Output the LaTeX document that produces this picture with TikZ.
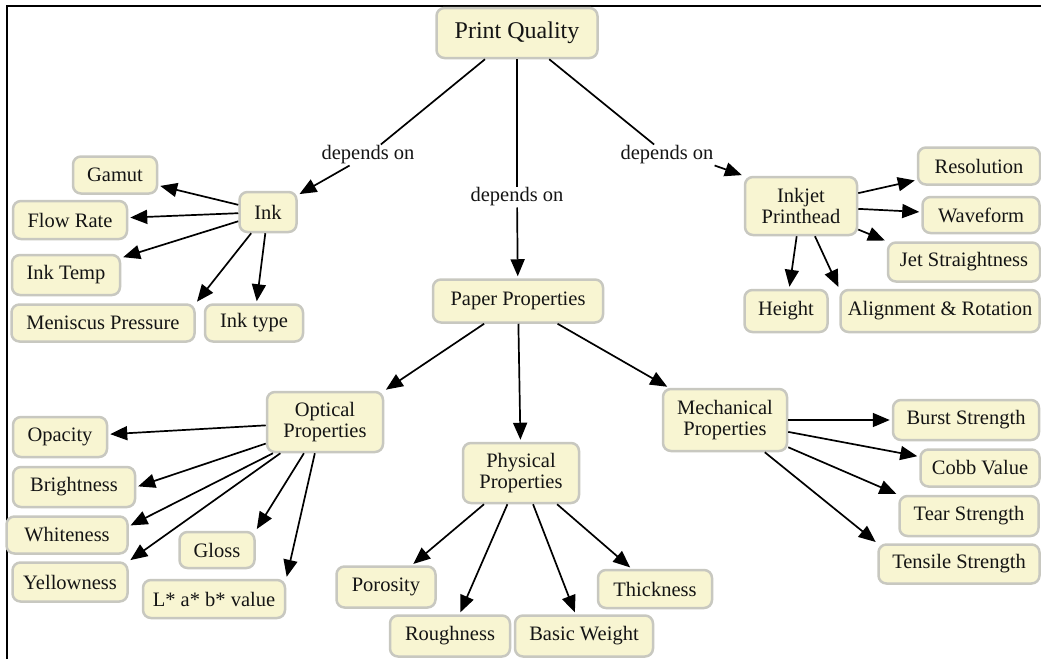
\documentclass[tikz,border=0pt]{standalone}
\usepackage{fontspec}
\setmainfont{Liberation Serif}
\usetikzlibrary{arrows.meta}
\definecolor{boxfill}{RGB}{248,245,210}
\definecolor{boxline}{RGB}{200,200,192}
\definecolor{txt}{RGB}{20,20,20}
\tikzset{
  concept/.style={draw=boxline, line width=2.5pt, fill=boxfill, rounded corners=8pt,
    inner sep=0pt, align=center, text=txt, font=\fontsize{20.5}{20.5}\selectfont},
  sz/.style 2 args={minimum width=#1pt, minimum height=#2pt},
  linkphrase/.style={fill=white, inner sep=1pt, text=txt, font=\fontsize{20.5}{20.5}\selectfont},
  conn/.style={line width=1.7pt, black},
  arr/.style={conn, -{Triangle[length=17pt,width=14pt]}, shorten >=2pt},
}
\begin{document}
\begin{tikzpicture}[x=1pt,y=-1pt]
\useasboundingbox (0,0) rectangle (1041,659);
\fill[white] (0,0) rectangle (1041,659);
\draw[line width=2pt] (7,659) -- (7,6) -- (1041,6);

% top
\node[concept, sz={161}{50}, font=\fontsize{24}{24}\selectfont] (pq) at (517,33) {Print Quality};
\node[linkphrase] (dep1) at (368,155) {depends on};
\node[linkphrase] (dep2) at (517,197) {depends on};
\node[linkphrase] (dep3) at (667,155) {depends on};

% ink
\node[concept, sz={57}{40}] (ink) at (268,212) {Ink};
\node[concept, sz={84}{37}] (gamut) at (115,175) {Gamut};
\node[concept, sz={114}{38}] (flow) at (70,220) {Flow Rate};
\node[concept, sz={108}{40}] (itemp) at (66,275) {Ink Temp};
\node[concept, sz={183}{37}] (menis) at (103,323) {Meniscus Pressure};
\node[concept, sz={98}{37}] (itype) at (254,323) {Ink type};

% paper
\node[concept, sz={170}{43}] (paper) at (518,301) {Paper Properties};

% inkjet printhead
\node[concept, sz={112}{58}] (ph) at (801,206) {Inkjet\\Printhead};
\node[concept, sz={122}{37}] (res) at (979,166) {Resolution};
\node[concept, sz={117}{36}] (wave) at (981,215) {Waveform};
\node[concept, sz={152}{39}] (jet) at (964,262) {Jet Straightness};
\node[concept, sz={83}{42}] (height) at (786,311) {Height};
\node[concept, sz={199}{42}] (align) at (940,311) {Alignment \& Rotation};

% optical
\node[concept, sz={116}{60}] (optical) at (325,422) {Optical\\Properties};
\node[concept, sz={94}{40}] (opacity) at (60,437) {Opacity};
\node[concept, sz={122}{40}] (bright) at (74,487) {Brightness};
\node[concept, sz={121}{37}] (white) at (67,535) {Whiteness};
\node[concept, sz={75}{36}] (gloss) at (217,550) {Gloss};
\node[concept, sz={115}{39}] (yellow) at (70,582) {Yellowness};
\node[concept, sz={142}{38}] (lab) at (214,599) {L* a* b* value};

% physical
\node[concept, sz={116}{60}] (phys) at (521,473) {Physical\\Properties};
\node[concept, sz={99}{41}] (poros) at (386,587) {Porosity};
\node[concept, sz={120}{41}] (rough) at (450,636) {Roughness};
\node[concept, sz={138}{41}] (basic) at (584,636) {Basic Weight};
\node[concept, sz={114}{38}] (thick) at (655,589) {Thickness};

% mechanical
\node[concept, sz={124}{62}] (mech) at (725,420) {Mechanical\\Properties};
\node[concept, sz={146}{40}] (burst) at (966,420) {Burst Strength};
\node[concept, sz={119}{37}] (cobb) at (980,468) {Cobb Value};
\node[concept, sz={139}{40}] (tear) at (969,516) {Tear Strength};
\node[concept, sz={161}{39}] (tensile) at (959,564) {Tensile Strength};

% connectors
\draw[conn] (pq) -- (dep1);
\draw[arr] (dep1) -- (ink);
\draw[conn] (pq) -- (dep2);
\draw[arr] (dep2) -- (paper);
\draw[conn] (pq) -- (dep3);
\draw[arr] (dep3.south east) -- (ph.north west);

\draw[arr] (ink) -- (gamut);
\draw[arr] (ink) -- (flow);
\draw[arr] (ink) -- (itemp);
\draw[arr] (ink) -- (menis.north east);
\draw[arr] (ink) -- (itype);

\draw[arr] (ph) -- (res);
\draw[arr] (ph) -- (wave);
\draw[arr] (ph) -- (jet.north west);
\draw[arr] (ph) -- (height);
\draw[arr] (ph) -- (align.north west);

\draw[arr] (paper) -- (optical.north east);
\draw[arr] (paper) -- (phys);
\draw[arr] (paper) -- (mech);

\draw[arr] (optical) -- (opacity);
\draw[arr] (optical.200) -- (bright.east);
\draw[arr] (optical.211) -- (white.8);
\draw[arr] (optical.215) -- (yellow.north east);
\draw[arr] (optical.236) -- (gloss.north east);
\draw[arr] (optical.252) -- (lab.north east);

\draw[arr] (phys) -- (poros);
\draw[arr] (phys) -- (rough);
\draw[arr] (phys) -- (basic);
\draw[arr] (phys) -- (thick);

\draw[arr] (mech) -- (burst);
\draw[arr] (mech) -- (cobb);
\draw[arr] (mech) -- (tear.north west);
\draw[arr] (mech) -- (tensile.north west);
\end{tikzpicture}
\end{document}
